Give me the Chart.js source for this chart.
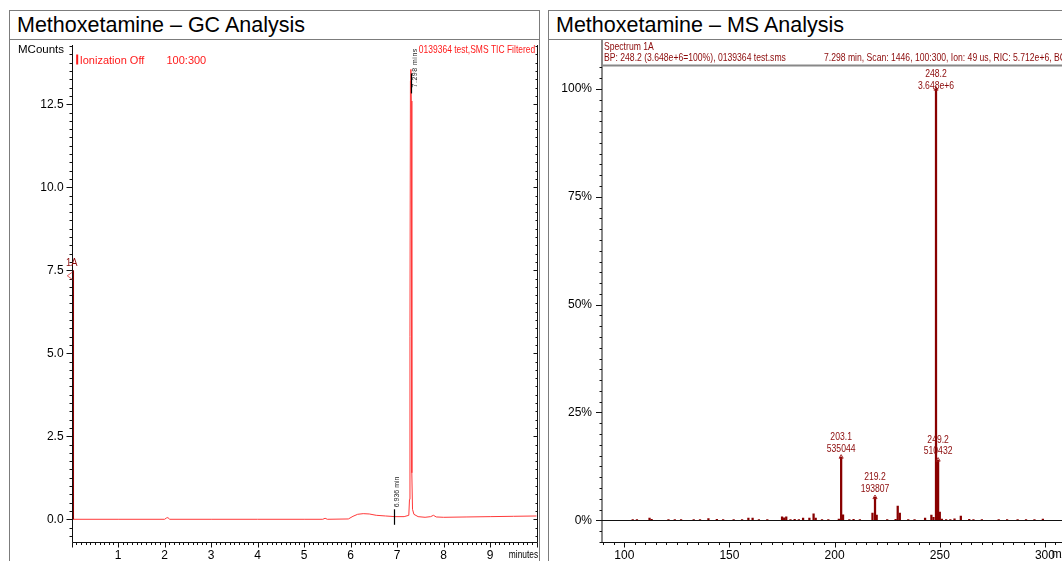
<!DOCTYPE html>
<html>
<head>
<meta charset="utf-8">
<title>Methoxetamine – GC / MS Analysis</title>
<script src="https://cdn.jsdelivr.net/npm/chart.js@4.4.1/dist/chart.umd.min.js"></script>
<style>
html, body { margin:0; padding:0; background:#fff; width:1062px; height:561px; overflow:hidden; }
body { position:relative; font-family:"Liberation Sans", Arial, Helvetica, sans-serif; }
.panel { position:absolute; top:10px; height:600px; border:1.5px solid #7c7c7c; box-sizing:border-box; }
#panelGC { left:9px; width:531px; }
#panelMS { left:548px; width:600px; }
.rule { position:absolute; top:39px; height:0; border-top:1.5px solid #7c7c7c; }
#ruleGC { left:9px; width:531px; }
#ruleMS { left:548px; width:600px; }
.title { position:absolute; top:15.3px; font-size:21.5px; line-height:21.5px; color:#000; white-space:nowrap; }
#titleGC { left:17px; }
#titleMS { left:556px; }
.box { position:absolute; top:0; height:561px; }
#boxGC { left:0; width:545px; }
#boxMS { left:548px; width:530px; }
canvas { display:block; }
</style>
</head>
<body>
<div class="panel" id="panelGC"></div>
<div class="panel" id="panelMS"></div>
<div class="rule" id="ruleGC"></div>
<div class="rule" id="ruleMS"></div>
<div class="title" id="titleGC">Methoxetamine – GC Analysis</div>
<div class="title" id="titleMS">Methoxetamine – MS Analysis</div>
<div class="box" id="boxGC"><canvas id="gc" width="545" height="561"></canvas></div>
<div class="box" id="boxMS"><canvas id="ms" width="530" height="561"></canvas></div>
<script>
// ---------------- GC chromatogram (TIC) ----------------
const gcTimeMin = [0.00, 1.00, 2.00, 2.04, 2.07, 2.11, 3.00, 4.00, 5.00, 5.40, 5.45, 5.50, 5.95, 6.05, 6.15, 6.27, 6.40, 6.55, 6.75, 6.95, 7.15, 7.25, 7.265, 7.275, 7.285, 7.295, 7.305, 7.315, 7.33, 7.36, 7.45, 7.60, 7.72, 7.78, 7.84, 8.00, 8.50, 9.00, 9.50, 10.00];
const gcMCounts = [0.00, 0.00, 0.00, 0.04, 0.05, 0.00, 0.00, 0.00, 0.00, 0.00, 0.03, 0.00, 0.01, 0.09, 0.15, 0.17, 0.16, 0.12, 0.10, 0.08, 0.08, 0.12, 0.60, 5.50, 13.20, 13.55, 12.60, 1.40, 0.30, 0.15, 0.08, 0.06, 0.08, 0.12, 0.07, 0.06, 0.07, 0.08, 0.09, 0.10];
const gcXTickValues = [1, 2, 3, 4, 5, 6, 7, 8, 9];
const gcYTickValues = [0, 2.5, 5, 7.5, 10, 12.5];
const gcSpectrumMarkTime = [0.035, 0.035];
const gcSpectrumMarkCounts = [0, 7.5];
const gcPeakTimes = [6.936, 7.298];
const gcPeakLabels = ['6.936 min', '7.298 mins'];

// ---------------- Mass spectrum (scan 1446) ----------------
const msMz = [104, 106, 112, 113, 121, 124, 127, 133, 136, 140, 144, 147, 152, 156, 159, 161, 164, 168, 175, 176, 177, 179, 181, 183, 185, 188, 190, 191, 194, 197, 202, 203.1, 204, 207, 209, 212, 218, 219.2, 220, 225, 229, 230, 231, 235, 238, 243, 246, 247, 248.2, 249.2, 250, 251, 253, 255, 257, 260, 264, 266, 270, 278, 282, 287, 291, 295, 299];
const msRelAbundance = [0.15, 0.15, 0.5, 0.2, 0.15, 0.15, 0.15, 0.15, 0.15, 0.4, 0.25, 0.15, 0.15, 0.15, 0.5, 0.5, 0.15, 0.15, 0.8, 0.6, 0.8, 0.15, 0.25, 0.15, 0.5, 0.5, 1.5, 0.5, 0.15, 0.15, 0.3, 14.67, 1.25, 0.15, 0.25, 0.15, 1.7, 5.31, 1.2, 0.15, 0.25, 3.3, 1.7, 0.15, 0.15, 0.5, 1.2, 0.7, 100, 13.99, 1.9, 0.3, 0.15, 0.15, 0.35, 1.0, 0.25, 0.15, 0.15, 0.15, 0.15, 0.15, 0.15, 0.15, 0.3];
const msXTickValues = [100, 150, 200, 250, 300];
const msYTickValues = [0, 25, 50, 75, 100];
const msLabelMz = [203.1, 219.2, 248.2, 249.2];
const msLabelRel = [14.67, 5.31, 100, 13.99];
const msLabelMass = ['203.1', '219.2', '248.2', '249.2'];
const msLabelCounts = ['535044', '193807', '3.648e+6', '510432'];

const FONT = '"Liberation Sans", Arial, Helvetica, sans-serif';
const DARKRED = '#8b0a0a';

function drawText(ctx, text, x, y, size, color, align, sx) {
  ctx.save();
  ctx.font = size + 'px ' + FONT;
  ctx.fillStyle = color;
  ctx.textAlign = align || 'left';
  ctx.textBaseline = 'alphabetic';
  ctx.translate(x, y);
  ctx.scale(sx || 1, 1);
  ctx.fillText(text, 0, 0);
  ctx.restore();
}
function seg(ctx, x1, y1, x2, y2) {
  ctx.beginPath(); ctx.moveTo(x1, y1); ctx.lineTo(x2, y2); ctx.stroke();
}
const px = v => Math.round(v) + 0.5;

function fixedTicks(values) {
  return function (scale) { scale.ticks = values.map(v => ({ value: v })); };
}

// ---------- GC decorations ----------
const gcDecor = {
  id: 'gcDecor',
  afterDraw(chart) {
    const { ctx, chartArea: a, scales: { x, y } } = chart;
    ctx.save();
    ctx.strokeStyle = '#111';
    ctx.lineWidth = 1;
    const L = px(a.left), R = px(a.right), B = px(a.bottom), T = a.top;
    seg(ctx, L, T, L, B);
    seg(ctx, L, B, R, B);
    seg(ctx, R, T, R, B);
    // y ticks (minor 0.25, major 2.5)
    for (let i = Math.ceil(y.min / 0.25); i * 0.25 <= y.max; i++) {
      const yy = px(y.getPixelForValue(i * 0.25));
      const major = i % 10 === 0;
      seg(ctx, L - (major ? 6 : 3), yy, L, yy);
      seg(ctx, R - (major ? 4 : 2), yy, R, yy);
    }
    // x ticks (minor 0.1, major 1)
    for (let i = 0; i <= 100; i++) {
      const xx = px(x.getPixelForValue(i / 10));
      const major = i % 10 === 0;
      seg(ctx, xx, B, xx, B + (major ? 5 : 2.5));
    }
    // axis titles
    drawText(ctx, 'MCounts', 18, 52.5, 11.5, '#000', 'left', 1);
    drawText(ctx, 'minutes', a.right + 1.5, 558, 10.5, '#000', 'right', 0.8);
    // header annotations
    drawText(ctx, '0139364 test,SMS TIC Filtered', a.right - 1.5, 52.5, 10.6, '#ff1a1a', 'right', 0.8);
    ctx.fillStyle = '#ff1a1a';
    const ionX = x.getPixelForValue(0.12);
    ctx.fillRect(ionX - 1, a.top + 9.5, 2, 10);
    drawText(ctx, 'Ionization Off', ionX + 2.5, a.top + 19, 11, '#ff1a1a', 'left', 1);
    drawText(ctx, '100:300', x.getPixelForValue(2.04), a.top + 19, 11, '#ff1a1a', 'left', 1);
    // spectrum marker 1A
    const mx = x.getPixelForValue(gcSpectrumMarkTime[0]);
    const my = y.getPixelForValue(gcSpectrumMarkCounts[1]);
    drawText(ctx, '1A', mx - 1.5, my - 4, 11, DARKRED, 'center', 0.85);
    ctx.strokeStyle = '#e06060';
    ctx.beginPath();
    ctx.moveTo(mx - 1, my + 2); ctx.lineTo(mx - 6, my + 5.5); ctx.lineTo(mx - 1, my + 9);
    ctx.stroke();
    // peak retention-time labels
    const y0 = y.getPixelForValue(0);
    ctx.strokeStyle = '#000';
    ctx.lineWidth = 1.2;
    // 6.936
    let p = px(x.getPixelForValue(gcPeakTimes[0]));
    seg(ctx, p, y0 - 10, p, y0 + 5.5);
    ctx.save();
    ctx.translate(p + 4, y0 - 12);
    ctx.rotate(-Math.PI / 2);
    ctx.font = '7px ' + FONT; ctx.fillStyle = '#222'; ctx.textAlign = 'left';
    ctx.fillText(gcPeakLabels[0], 0, 0);
    ctx.restore();
    // 7.298
    p = px(x.getPixelForValue(gcPeakTimes[1]));
    const ptop = y.getPixelForValue(13.55);
    seg(ctx, p, ptop + 4, p, ptop + 24);
    ctx.save();
    ctx.translate(p + 5, ptop + 18);
    ctx.rotate(-Math.PI / 2);
    ctx.font = '7px ' + FONT; ctx.fillStyle = '#222'; ctx.textAlign = 'left';
    try { ctx.letterSpacing = '0.5px'; } catch (e) {}
    ctx.fillText(gcPeakLabels[1], 0, 0);
    ctx.restore();
    ctx.restore();
  }
};

new Chart(document.getElementById('gc'), {
  type: 'line',
  data: {
    datasets: [
      {
        data: gcTimeMin.map((t, i) => ({ x: t, y: gcMCounts[i] })),
        borderColor: '#ff3a3a', borderWidth: 1, pointRadius: 0, tension: 0, fill: false, order: 2
      },
      {
        data: gcSpectrumMarkTime.map((t, i) => ({ x: t, y: gcSpectrumMarkCounts[i] })),
        borderColor: '#8b0000', borderWidth: 1.6, pointRadius: 0, tension: 0, fill: false, order: 1
      }
    ]
  },
  options: {
    responsive: false, animation: false, events: [],
    layout: { padding: { left: 0, top: 45, right: 8.3, bottom: 0 } },
    plugins: { legend: { display: false }, tooltip: { enabled: false }, title: { display: false } },
    scales: {
      x: {
        type: 'linear', min: 0, max: 10,
        afterBuildTicks: fixedTicks(gcXTickValues),
        afterFit(s) { s.height = 19; },
        grid: { display: true, drawOnChartArea: false, drawTicks: false, color: 'rgba(0,0,0,0)' },
        border: { display: false },
        ticks: { padding: 6, color: '#000', font: { family: FONT, size: 12 }, maxRotation: 0, autoSkip: false, callback: v => String(v) }
      },
      y: {
        type: 'linear', min: -0.684, max: 14.286,
        afterBuildTicks: fixedTicks(gcYTickValues),
        afterFit(s) { s.width = 71.6; },
        grid: { display: true, drawOnChartArea: false, drawTicks: false, color: 'rgba(0,0,0,0)' },
        border: { display: false },
        ticks: { padding: 8, color: '#000', font: { family: FONT, size: 12 }, autoSkip: false, callback: v => v.toFixed(1) }
      }
    }
  },
  plugins: [gcDecor]
});

// ---------- MS decorations ----------
const msDecor = {
  id: 'msDecor',
  afterDraw(chart) {
    const { ctx, chartArea: a, scales: { x, y } } = chart;
    ctx.save();
    const L = a.left, B = px(a.bottom), T = a.top;
    // header box rule + left axis (gray)
    ctx.strokeStyle = '#888';
    ctx.lineWidth = 2;
    seg(ctx, L, T, chart.width, T);
    seg(ctx, L, 40, L, a.bottom);
    // header text
    drawText(ctx, 'Spectrum 1A', L + 2, 49.5, 10.5, DARKRED, 'left', 0.82);
    drawText(ctx, 'BP: 248.2 (3.648e+6=100%), 0139364 test.sms', L + 2, 61, 10.5, DARKRED, 'left', 0.82);
    drawText(ctx, '7.298 min, Scan: 1446, 100:300, Ion: 49 us, RIC: 5.712e+6, BC', L + 222, 61, 10.5, DARKRED, 'left', 0.82);
    // bottom axis
    ctx.strokeStyle = '#111';
    ctx.lineWidth = 1;
    seg(ctx, L, B, a.right, B);
    // y ticks (minor 2.5 %, major 25 %)
    for (let i = Math.ceil(y.min / 2.5); i * 2.5 <= y.max; i++) {
      const yy = px(y.getPixelForValue(i * 2.5));
      const major = i % 10 === 0;
      seg(ctx, L - (major ? 6 : 2.5), yy, L, yy);
    }
    // x ticks (minor 5, major 50)
    for (let i = Math.ceil(x.min / 5); i * 5 <= x.max; i++) {
      const xx = px(x.getPixelForValue(i * 5));
      const major = i % 10 === 0;
      seg(ctx, xx, B, xx, B + (major ? 5 : 2.5));
    }
    // 0 % baseline
    const y0 = px(y.getPixelForValue(0));
    seg(ctx, L, y0, a.right, y0);
    // axis unit
    drawText(ctx, 'm/z', a.right + 1, 558, 12, '#000', 'right', 1);
    // peak labels
    for (let i = 0; i < msLabelMz.length; i++) {
      const lx = x.getPixelForValue(msLabelMz[i]);
      const top = y.getPixelForValue(msLabelRel[i]);
      const l1 = Math.max(top - 17, T + 11.5);
      drawText(ctx, msLabelMass[i], lx, l1, 10.5, DARKRED, 'center', 0.82);
      drawText(ctx, msLabelCounts[i], lx, l1 + 11.5, 10.5, DARKRED, 'center', 0.82);
    }
    ctx.restore();
  }
};

new Chart(document.getElementById('ms'), {
  type: 'bar',
  data: {
    datasets: [
      {
        type: 'bar',
        data: msMz.map((m, i) => ({ x: m, y: msRelAbundance[i] })),
        backgroundColor: '#880000', borderWidth: 0, barThickness: 1.6, grouped: false, order: 2
      },
      {
        type: 'scatter',
        data: msLabelMz.map((m, i) => ({ x: m, y: msLabelRel[i] })),
        pointStyle: 'triangle', pointRadius: 2.4, borderColor: '#a01818', borderWidth: 0.9,
        backgroundColor: 'rgba(255,255,255,0)', order: 1
      }
    ]
  },
  options: {
    responsive: false, animation: false, events: [],
    layout: { padding: { left: 0, top: 65.5, right: 7.8, bottom: 0 } },
    plugins: { legend: { display: false }, tooltip: { enabled: false }, title: { display: false } },
    scales: {
      x: {
        type: 'linear', min: 89.4, max: 312, offset: false,
        afterBuildTicks: fixedTicks(msXTickValues),
        afterFit(s) { s.height = 18.7; },
        grid: { display: true, drawOnChartArea: false, drawTicks: false, color: 'rgba(0,0,0,0)' },
        border: { display: false },
        ticks: { padding: 6, color: '#000', font: { family: FONT, size: 12 }, maxRotation: 0, autoSkip: false, callback: v => String(v) }
      },
      y: {
        type: 'linear', min: -5.1, max: 105.45,
        afterBuildTicks: fixedTicks(msYTickValues),
        afterFit(s) { s.width = 54; },
        grid: { display: true, drawOnChartArea: false, drawTicks: false, color: 'rgba(0,0,0,0)' },
        border: { display: false },
        ticks: { padding: 10, color: '#000', font: { family: FONT, size: 12 }, autoSkip: false, callback: v => v + '%' }
      }
    }
  },
  plugins: [msDecor]
});
</script>
</body>
</html>
